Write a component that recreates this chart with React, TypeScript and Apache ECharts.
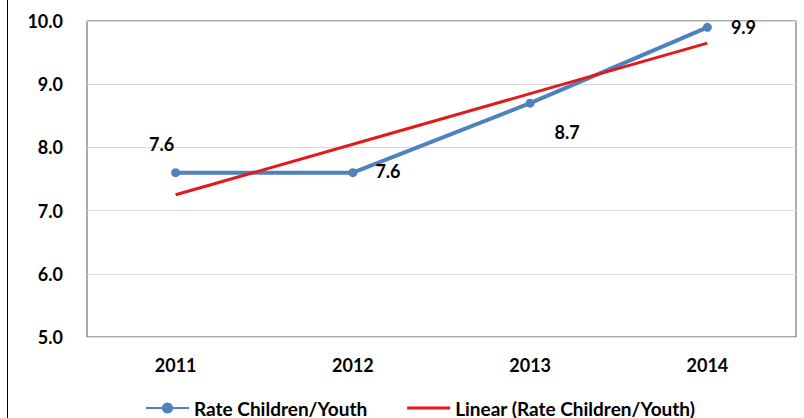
import React, { useEffect, useRef } from "react";
import * as echarts from "echarts";

const years = ["2011", "2012", "2013", "2014"];
const rateValues = [7.6, 7.6, 8.7, 9.9];
const trendValues = [7.25, 8.05, 8.85, 9.65];
const yTicks = { min: 5, max: 10, interval: 1 };
const seriesNames = ["Rate Children/Youth", "Linear (Rate Children/Youth)"];

const FONT = "Lato, 'Liberation Sans', sans-serif";

// label placement per point (style only)
const labelPlacement: any[] = [
  { position: "top", offset: [-14, -10] },
  { position: "right", offset: [13, -2] },
  { position: "bottom", offset: [37, 10] },
  { position: "right", offset: [14, 0] },
];

const trendIcon = "path://M0,0L0.01,0M0,5.5L43,5.5L43,8.5L0,8.5ZM0,14L0.01,14";

export default function App() {
  const ref = useRef<HTMLDivElement>(null);
  useEffect(() => {
    if (!ref.current) return;
    const chart = echarts.init(ref.current, undefined, { renderer: "svg" });
    chart.setOption({
      animation: false,
      backgroundColor: "#ffffff",
      textStyle: { fontFamily: FONT },
      grid: {
        left: 87,
        right: 8,
        top: 21,
        bottom: 81,
        show: true,
        borderColor: "#595959",
        borderWidth: 1,
        containLabel: false,
      },
      legend: {
        left: 140,
        top: 393,
        itemWidth: 43,
        itemHeight: 14,
        itemGap: 40,
        textStyle: {
          fontFamily: FONT,
          fontSize: 19,
          lineHeight: 20,
          fontWeight: "bold",
          color: "#000",
        },
        data: [{ name: seriesNames[0] }, { name: seriesNames[1], icon: trendIcon }],
      },
      xAxis: {
        type: "category",
        data: years,
        boundaryGap: true,
        axisLine: { show: false },
        axisTick: { show: false },
        axisLabel: { margin: 19, fontSize: 18, fontWeight: "bold", color: "#000", fontFamily: FONT },
        splitLine: { show: false },
      },
      yAxis: {
        type: "value",
        min: yTicks.min,
        max: yTicks.max,
        interval: yTicks.interval,
        axisLine: { show: false },
        axisTick: { show: false },
        axisLabel: {
          margin: 24,
          fontSize: 18,
          fontWeight: "bold",
          color: "#000",
          fontFamily: FONT,
          formatter: (v: number) => v.toFixed(1),
        },
        splitLine: { show: true, lineStyle: { color: "#d9d9d9", width: 1 } },
      },
      graphic: [
        {
          type: "line",
          shape: { x1: 7.5, y1: 0, x2: 7.5, y2: 418 },
          style: { stroke: "#000", lineWidth: 1 },
        },
      ],
      series: [
        {
          name: seriesNames[0],
          type: "line",
          data: rateValues.map((v, i) => ({
            value: v,
            label: {
              show: true,
              position: labelPlacement[i].position,
              offset: labelPlacement[i].offset,
            },
          })),
          symbol: "circle",
          symbolSize: 9,
          itemStyle: { color: "#4F81BD" },
          lineStyle: { color: "#4F81BD", width: 4 },
          label: {
            show: true,
            fontSize: 18,
            fontWeight: "bold",
            color: "#000",
            fontFamily: FONT,
            formatter: (p: any) => Number(p.value).toFixed(1),
          },
          z: 3,
        },
        {
          name: seriesNames[1],
          type: "line",
          data: trendValues,
          symbol: "none",
          itemStyle: { color: "#E3191C" },
          lineStyle: { color: "#E3191C", width: 3 },
          z: 4,
        },
      ],
    });
    return () => chart.dispose();
  }, []);
  return <div ref={ref} style={{ width: 804, height: 418, position: "absolute", left: 0, top: 0 }} />;
}
